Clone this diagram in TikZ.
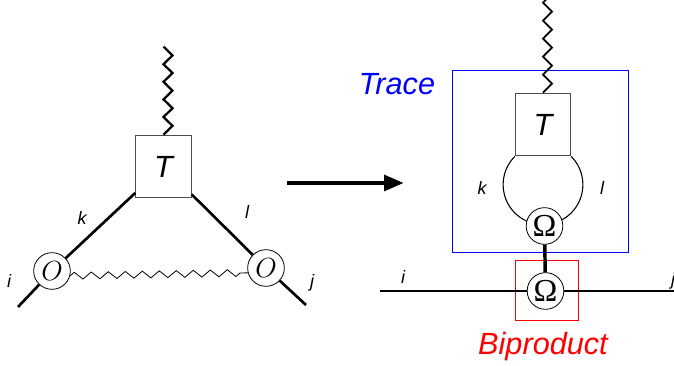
\documentclass[tikz,border=0pt]{standalone}
\usepackage{fontspec}
\setmainfont{Liberation Sans}
\newfontfamily\omfont{Liberation Serif}
\usetikzlibrary{decorations.pathmorphing,arrows.meta}
\begin{document}
\begin{tikzpicture}[>={Triangle[length=15pt,width=11.5pt]},x=0.75pt,y=0.75pt,
	tbox/.style={draw=black!70,fill=white,line width=.8pt,minimum width=41.5pt,minimum height=47pt,inner sep=0pt,font=\fontsize{23}{26}\selectfont\itshape},
	vert/.style={draw,circle,fill=white,line width=.6pt,minimum size=27.5pt,inner sep=0pt,font=\fontsize{22}{24}\selectfont},
	lab/.style={font=\fontsize{13.5}{16}\selectfont\itshape},
	big/.style={font=\fontsize{23}{26}\selectfont\itshape},
	leg/.style={line width=2pt}]
	\useasboundingbox (0,0) rectangle (674,366);
	% left: vertex with the two O insertions
	\node[tbox] (Tl) at (163.5,199.5) {T};
	\node[vert] (Oi) at (52,95) {$O$};
	\node[vert] (Oj) at (266,98) {$O$};
	\coordinate (ei) at (18,59);
	\coordinate (ej) at (306,61);
	\draw[leg] (ei) -- (Oi) (Oi) -- (Tl) (Tl) -- (Oj) (Oj) -- (ej);
	\draw[line width=1.7pt,line join=miter] (Tl.north) foreach \k in {1,...,10}{ -- ++({ifthenelse(mod(\k,2),9,-9)},8.8)};
	\draw[decorate,decoration={zigzag,segment length=12.75pt,amplitude=2.6pt},line width=.6pt] (Oi.-15) -- (Oj.195);
	\node[lab] (ki) at (82,148) {k};
	\node[lab] (li) at (247,154) {l};
	\node[lab] (il) at (9,85) {i};
	\node[lab] (jl) at (312,83) {j};
	% arrow
	\coordinate (a1) at (287,183);
	\coordinate (a2) at (404,183);
	\draw[->,line width=3.6pt] (a1) -- (a2);
	% right: trace and biproduct
	\draw[blue,line width=.75pt] (452,295) rectangle (628,113);
	\draw[red,line width=.75pt] (515,105) rectangle (578,45);
	\node[tbox] (Tr) at (543,241.5) {T};
	\node[vert] (Wu) at (544.5,140) {\fontsize{24}{26}\selectfont\omfont Ω};
	\node[vert] (Wd) at (545.5,75) {\fontsize{24}{26}\selectfont\omfont Ω};
	\coordinate (hi) at (380,75);
	\coordinate (hj) at (680,75);
	\draw[line width=1.3pt,line join=miter] (Tr.north) foreach \k in {1,...,11}{ -- ++({ifthenelse(mod(\k,2),9,-9)},9)};
	\draw[line width=.8pt] (Tr.south west) arc[start angle=135,end angle=246,radius=40];
	\draw[line width=.8pt] (Tr.south east) arc[start angle=45,end angle=-62,radius=40];
	\draw[line width=2.6pt] (Wu) -- (Wd);
	\draw[line width=1.5pt] (hi) -- (Wd) (Wd) -- (hj);
	\node[lab] (kr) at (482,178) {k};
	\node[lab] (lr) at (602,178) {l};
	\node[lab] (ir) at (403,89) {i};
	\node[lab] (jr) at (673,85) {j};
	\node[big,text=blue] (trace) at (397,282) {Trace};
	\node[big,text=red] (bip) at (543,19) {Biproduct};
\end{tikzpicture}
\end{document}
